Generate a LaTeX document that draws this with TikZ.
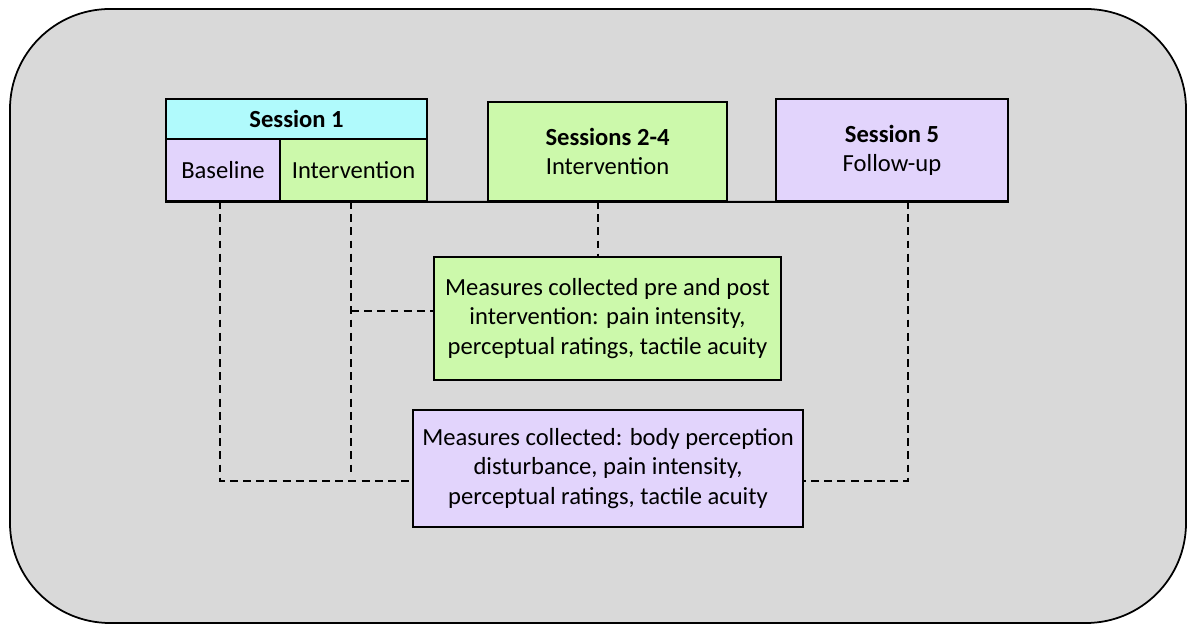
\documentclass[tikz,border=0pt]{standalone}
\usepackage{fontspec}
\setmainfont{Carlito}
\definecolor{bggray}{HTML}{D9D9D9}
\definecolor{headcyan}{HTML}{B0FAFC}
\definecolor{baselila}{HTML}{E2D4FC}
\definecolor{intgreen}{HTML}{CCF9AB}
\tikzset{
  box/.style={draw=black, line width=1.1pt, rectangle, inner sep=2pt, align=center,
    font=\fontsize{14}{16.6}\selectfont},
  link/.style={dashed, line width=0.8pt, dash pattern=on 4.5pt off 3pt},
}
\begin{document}
\begin{tikzpicture}[x=0.02cm, y=-0.02cm]
\useasboundingbox (0,0) rectangle (1187,624);
\draw[fill=bggray, line width=1pt, rounded corners=2cm] (10,9) rectangle (1186,623);

% sessions
\node[box, fill=headcyan, minimum width=5.22cm, minimum height=0.8cm] (s1) at (296.5,119) {\textbf{Session 1}};
\node[box, fill=baselila, minimum width=2.28cm, minimum height=1.24cm] (s1base) at (223,170) {Baseline};
\node[box, fill=intgreen, minimum width=2.94cm, minimum height=1.24cm] (s1int) at (353.5,170) {Intervention};
\node[box, fill=intgreen, minimum width=4.78cm, minimum height=1.98cm] (s24) at (607.5,151.5) {\textbf{Sessions 2-4}\\Intervention};
\node[box, fill=baselila, minimum width=4.64cm, minimum height=2.04cm] (s5) at (892,150) {\textbf{Session 5}\\Follow-up};

% measures
\node[box, fill=intgreen, minimum width=6.94cm, minimum height=2.46cm] (prepost) at (607.5,318.5)
  {Measures collected pre and post\\intervention: pain intensity,\\perceptual ratings, tactile acuity};
\node[box, fill=baselila, minimum width=7.8cm, minimum height=2.34cm] (allmeas) at (608,468.5)
  {Measures collected: body perception\\disturbance, pain intensity,\\perceptual ratings, tactile acuity};

% timeline
\draw[line width=1.1pt] (s1base.south west) -- (s5.south east);
\coordinate (tbase) at (220,201);
\coordinate (tint) at (351,201);
\coordinate (t24) at (598,201);
\coordinate (t5) at (908,201);
\coordinate (jleft) at (220,481);
\coordinate (jright) at (908,481);

\draw[link] (tbase) -- (jleft) -- (jleft -| allmeas.west);
\draw[link] (tint) -- (351,475);
\draw[link] (351,311) -- (351,311 -| prepost.west);
\draw[link] (t24) -- (t24 |- prepost.north);
\draw[link] (t5) -- (jright) -- (jright -| allmeas.east);
\end{tikzpicture}
\end{document}
